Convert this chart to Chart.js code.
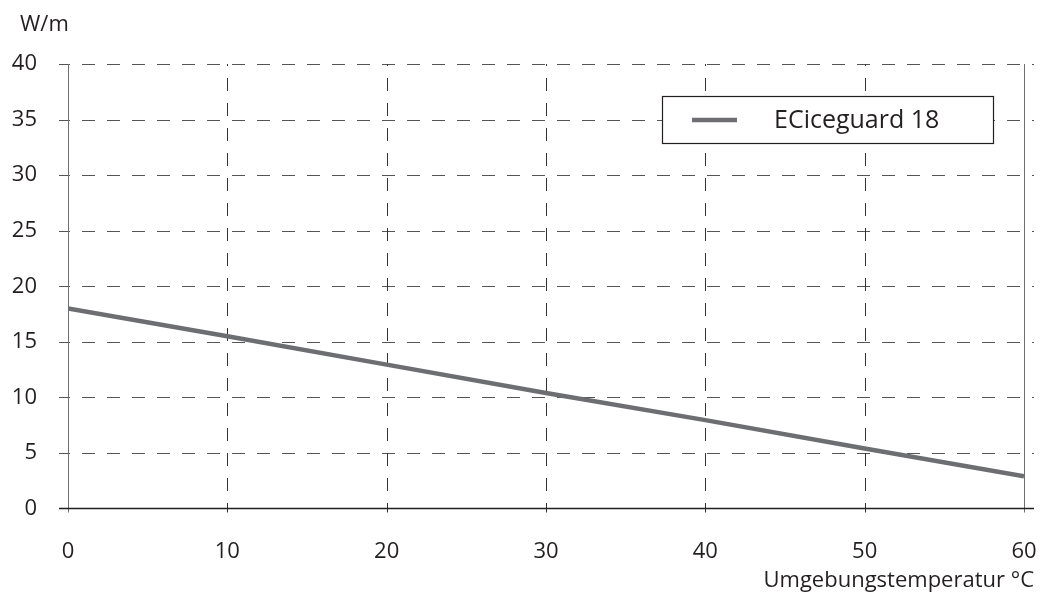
<!DOCTYPE html>
<html>
<head>
<meta charset="utf-8">
<script src="https://cdn.jsdelivr.net/npm/chart.js@4.4.1/dist/chart.umd.min.js"></script>
<style>
html,body{margin:0;padding:0;background:#fff;}
#wrap{width:1049px;height:595px;position:relative;}
</style>
</head>
<body>
<div id="wrap"><canvas id="c" width="1049" height="595"></canvas></div>
<script>
const xValues = [0, 10, 20, 30, 40, 50, 60];
const yValues = [18, 15.5, 12.95, 10.4, 7.95, 5.4, 2.9];
const xTicks = [0, 10, 20, 30, 40, 50, 60];
const yTicks = [0, 5, 10, 15, 20, 25, 30, 35, 40];
const seriesName = 'ECiceguard 18';
const yUnit = 'W/m';
const xTitle = 'Umgebungstemperatur °C';

const FONT = "'Open Sans', 'Noto Sans', sans-serif";
const TEXT = '#231f20';

const gridPlugin = {
  id: 'gridPlugin',
  beforeDatasetsDraw(chart) {
    const {ctx, chartArea: a, scales: {x, y}} = chart;
    ctx.save();
    ctx.lineWidth = 1;
    yTicks.forEach(v => {
      const py = Math.round(y.getPixelForValue(v)) + 0.5;
      if (v === 0) return;
      ctx.strokeStyle = '#555';
      ctx.setLineDash([]);
      ctx.beginPath(); ctx.moveTo(a.left - 9, py); ctx.lineTo(a.left, py); ctx.stroke();
      ctx.setLineDash([13, 12]);
      ctx.lineDashOffset = 11;
      ctx.beginPath(); ctx.moveTo(a.left, py); ctx.lineTo(a.right + 10, py); ctx.stroke();
    });
    xTicks.forEach(v => {
      const px = Math.round(x.getPixelForValue(v)) + 0.5;
      ctx.setLineDash([]);
      if (v === xTicks[0] || v === xTicks[xTicks.length - 1]) {
        ctx.strokeStyle = '#6d6e71';
        ctx.beginPath(); ctx.moveTo(px, a.top); ctx.lineTo(px, a.bottom + 4); ctx.stroke();
      } else {
        ctx.strokeStyle = '#333';
        ctx.beginPath(); ctx.moveTo(px, a.bottom); ctx.lineTo(px, a.bottom + 4); ctx.stroke();
        ctx.setLineDash([13, 12]);
        ctx.lineDashOffset = 11;
        ctx.beginPath(); ctx.moveTo(px, a.top); ctx.lineTo(px, a.bottom); ctx.stroke();
      }
    });
    ctx.setLineDash([]);
    ctx.strokeStyle = '#231f20';
    ctx.lineWidth = 1.5;
    const by = y.getPixelForValue(0);
    ctx.beginPath(); ctx.moveTo(a.left - 9, by); ctx.lineTo(a.right + 10, by); ctx.stroke();
    ctx.restore();
  },
  afterDraw(chart) {
    const {ctx, chartArea: a} = chart;
    ctx.save();
    ctx.fillStyle = TEXT;
    ctx.font = "22px " + FONT;
    ctx.textBaseline = 'middle';
    ctx.textAlign = 'left';
    ctx.fillText(yUnit, 20, 25);
    ctx.textAlign = 'right';
    ctx.fillText(xTitle, a.right + 10, 581);
    const bx = 662, bw = 331, byy = 96, bh = 47;
    ctx.fillStyle = '#fff';
    ctx.fillRect(bx, byy, bw, bh);
    ctx.strokeStyle = '#231f20';
    ctx.lineWidth = 1.2;
    ctx.strokeRect(bx + 0.5, byy + 0.5, bw, bh);
    ctx.strokeStyle = '#6d6e71';
    ctx.lineWidth = 4.5;
    ctx.beginPath(); ctx.moveTo(692, 120); ctx.lineTo(737, 120); ctx.stroke();
    ctx.fillStyle = TEXT;
    ctx.font = "25px " + FONT;
    ctx.textAlign = 'left';
    ctx.textBaseline = 'middle';
    ctx.fillText(seriesName, 774, 121);
    ctx.restore();
  }
};

new Chart(document.getElementById('c'), {
  type: 'line',
  data: {
    datasets: [{
      label: seriesName,
      data: xValues.map((v, i) => ({x: v, y: yValues[i]})),
      borderColor: '#6d6e71',
      borderWidth: 4.5,
      pointRadius: 0,
      pointHoverRadius: 0,
      pointHitRadius: 0,
      tension: 0,
      fill: false
    }]
  },
  options: {
    responsive: false,
    animation: false,
    devicePixelRatio: 1,
    layout: {autoPadding: false, padding: {top: 64, right: 25, left: 0, bottom: 0}},
    plugins: {legend: {display: false}, tooltip: {enabled: false}},
    scales: {
      x: {
        type: 'linear', min: 0, max: 60,
        afterBuildTicks: s => { s.ticks = xTicks.map(v => ({value: v})); },
        afterFit: s => { s.height = 86.5; s.paddingLeft = 0; s.paddingRight = 0; },
        grid: {display: false, drawTicks: false},
        border: {display: false},
        ticks: {color: TEXT, font: {size: 22, family: FONT}, padding: 30, maxRotation: 0, autoSkip: false}
      },
      y: {
        type: 'linear', min: 0, max: 40,
        afterBuildTicks: s => { s.ticks = yTicks.map(v => ({value: v})); },
        afterFit: s => { s.width = 68; s.paddingTop = 0; s.paddingBottom = 0; },
        grid: {display: false, drawTicks: false},
        border: {display: false},
        ticks: {color: TEXT, font: {size: 22, family: FONT}, padding: 31, autoSkip: false}
      }
    }
  },
  plugins: [gridPlugin]
});
</script>
</body>
</html>
